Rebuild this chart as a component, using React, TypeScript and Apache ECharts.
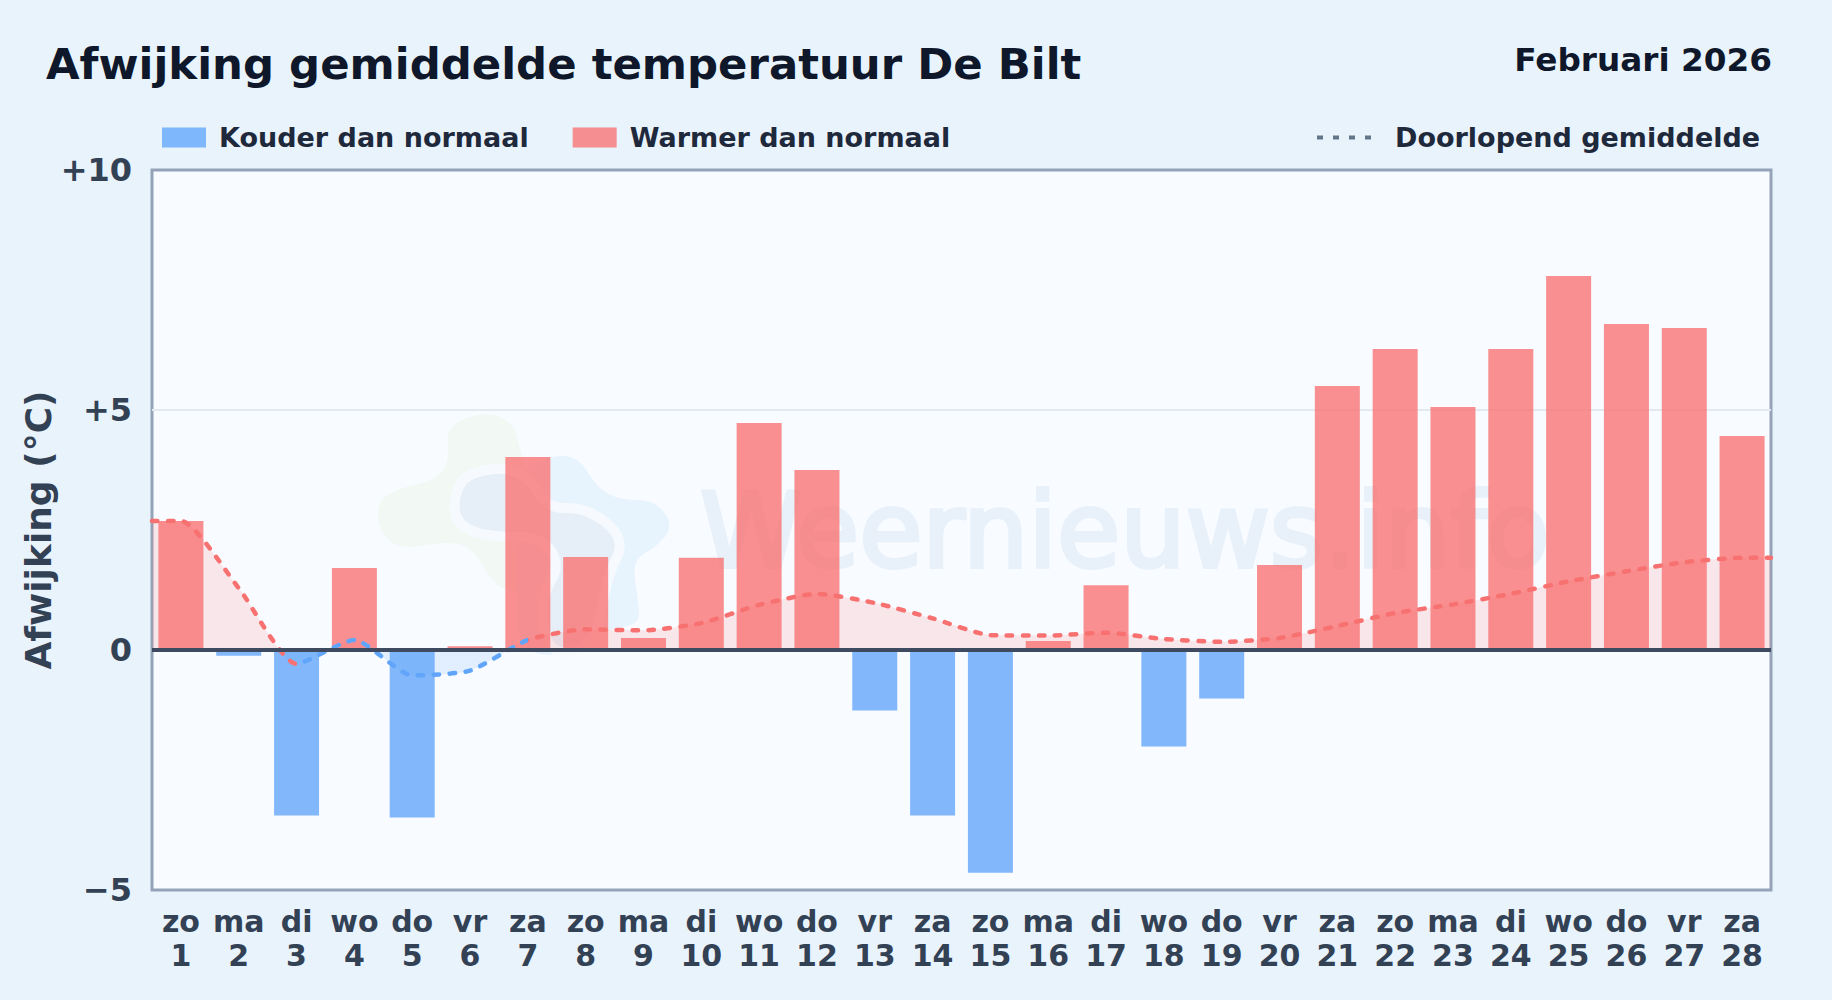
import React, { useEffect, useRef } from "react";
import * as echarts from "echarts";

const weekdays = ["zo","ma","di","wo","do","vr","za","zo","ma","di","wo","do","vr","za","zo","ma","di","wo","do","vr","za","zo","ma","di","wo","do","vr","za"];
const days = [1,2,3,4,5,6,7,8,9,10,11,12,13,14,15,16,17,18,19,20,21,22,23,24,25,26,27,28];
const anomalies = [2.69,-0.12,-3.45,1.71,-3.49,0.08,4.02,1.94,0.25,1.92,4.73,3.75,-1.26,-3.45,-4.64,0.19,1.35,-2.01,-1.01,1.77,5.5,6.27,5.06,6.27,7.79,6.79,6.71,4.46];
const runningMean = [2.69,1.29,-0.29,0.21,-0.53,-0.43,0.21,0.43,0.41,0.56,0.94,1.17,0.98,0.66,0.31,0.3,0.36,0.23,0.17,0.25,0.5,0.77,0.95,1.17,1.43,1.64,1.83,1.92];
const yTicks: Record<string, string> = { "10": "+10", "5": "+5", "0": "0", "-5": "\u22125" };
const coldStretch = [2.5, 6.5];

const FONT = "DejaVu Sans";
const RED = "#f87171";
const BLUE = "#60a5fa";
const BAR_RED = "rgba(248,113,113,0.78)";
const BAR_BLUE = "rgba(96,165,250,0.78)";
const SMOOTH = 0.2;

function blob(p: number[][]): string {
  const n = p.length;
  const mid = (a: number[], b: number[]) => [(a[0] + b[0]) / 2, (a[1] + b[1]) / 2];
  const s = mid(p[n - 1], p[0]);
  let d = `M${s[0]} ${s[1]}`;
  for (let i = 0; i < n; i++) {
    const m = mid(p[i], p[(i + 1) % n]);
    d += `Q${p[i][0]} ${p[i][1]} ${m[0]} ${m[1]}`;
  }
  return d + "Z";
}

const greenBlob = [[487,411],[515,424],[520,452],[540,500],[545,590],[505,592],[490,578],[470,545],[440,542],[400,550],[378,530],[378,500],[400,488],[436,480],[450,460],[446,425]];
const blueBlob = [[548,456],[578,456],[597,488],[620,500],[655,500],[674,526],[655,548],[632,560],[638,600],[640,625],[600,630],[570,655],[530,655],[515,630],[520,520],[520,470]];
const innerBlob = [[458,500],[470,476],[520,472],[545,514],[585,512],[620,540],[605,570],[598,600],[590,640],[552,652],[545,600],[566,565],[545,532],[490,532],[462,522]];

echarts.graphic.registerShape("wmGreen", echarts.graphic.extendPath(blob(greenBlob), {}));
echarts.graphic.registerShape("wmBlue", echarts.graphic.extendPath(blob(blueBlob), {}));
echarts.graphic.registerShape("wmInner", echarts.graphic.extendPath(blob(innerBlob), {}));

export default function App() {
  const ref = useRef<HTMLDivElement>(null);
  useEffect(() => {
    document.body.style.margin = "0";
    const chart = echarts.init(ref.current!, undefined, { renderer: "svg" });
    const linePoints = [
      [0, runningMean[0]],
      ...runningMean.map((v, i) => [i + 0.5, v]),
      [runningMean.length, runningMean[runningMean.length - 1]],
    ];
    chart.setOption({
      animation: false,
      backgroundColor: "#e9f3fc",
      textStyle: { fontFamily: FONT },
      title: [
        { text: "Afwijking gemiddelde temperatuur De Bilt", left: 41, top: 37, textStyle: { fontFamily: FONT, fontSize: 43.4, fontWeight: "bold", color: "#0f172a" } },
        { text: "Februari 2026", right: 55, top: 38, textStyle: { fontFamily: FONT, fontSize: 32.7, fontWeight: "bold", color: "#0f172a" } },
      ],
      legend: [
        {
          left: 157, top: 119, itemWidth: 44, itemHeight: 20, itemGap: 44,
          data: [
            { name: "Kouder dan normaal", icon: "rect" },
            { name: "Warmer dan normaal", icon: "rect" },
          ],
          textStyle: { fontFamily: FONT, fontSize: 27, fontWeight: "bold", color: "#1e293b", padding: [0, 0, 0, 8] },
          selectedMode: false,
        },
        {
          left: 1312, top: 119, itemWidth: 54, itemHeight: 4,
          data: [{ name: "Doorlopend gemiddelde", icon: "path://M0 0h6v4h-6zM16 0h6v4h-6zM32 0h6v4h-6zM48 0h6v4h-6z", itemStyle: { color: "#64748b" } }],
          textStyle: { fontFamily: FONT, fontSize: 27, fontWeight: "bold", color: "#1e293b", padding: [0, 0, 0, 19] },
          selectedMode: false,
        },
      ],
      grid: { left: 152, right: 61, top: 170, bottom: 110, show: true, backgroundColor: "#f8fbff", borderColor: "#94a3b8", borderWidth: 3 },
      xAxis: [
        {
          type: "category",
          data: weekdays.map((w, i) => `${w}\n${days[i]}`),
          position: "bottom",
          axisLine: { show: false, onZero: false },
          axisTick: { show: false },
          splitLine: { show: false },
          axisLabel: { interval: 0, margin: 14, color: "#334155", fontFamily: FONT, fontSize: 30, fontWeight: "bold", lineHeight: 34 },
        },
        { type: "value", min: 0, max: days.length, show: false, splitLine: { show: false } },
      ],
      yAxis: {
        type: "value", min: -5, max: 10, interval: 5,
        name: "Afwijking (\u00b0C)", nameLocation: "middle", nameRotate: 90, nameGap: 96, nameMoveOverlap: false,
        nameTextStyle: { fontFamily: FONT, fontSize: 36, fontWeight: "bold", color: "#334155" },
        axisLine: { show: false }, axisTick: { show: false },
        splitLine: { show: true, showMinLine: false, showMaxLine: false, lineStyle: { color: "#e4e9ef", width: 2 } },
        axisLabel: { margin: 20, color: "#334155", fontFamily: FONT, fontSize: 32, fontWeight: "bold", formatter: (v: number) => yTicks[String(v)] ?? String(v) },
      },
      visualMap: [
        { show: false, seriesIndex: 2, dimension: 1, pieces: [{ min: -100, max: 0, color: BLUE }, { min: 0, max: 100, color: RED }] },
        { show: false, seriesIndex: 3, dimension: 0, pieces: [{ min: -100, max: coldStretch[0], color: RED }, { min: coldStretch[0], max: coldStretch[1], color: BLUE }, { min: coldStretch[1], max: 100, color: RED }] },
      ],
      graphic: [
        { type: "wmGreen", x: 0, y: 0, z: 1, silent: true, style: { fill: "#f2f8f3" } },
        { type: "wmBlue", x: 0, y: 0, z: 1, silent: true, style: { fill: "#e7f3fd" } },
        { type: "wmInner", x: 0, y: 0, z: 1, silent: true, style: { fill: "#e6eff8", stroke: "#f6fafe", lineWidth: 20 } },
        { type: "wmInner", x: 0, y: 0, z: 1, silent: true, style: { fill: "#e6eff8" } },
        { type: "text", x: 700, y: 479, z: 1, silent: true, style: { text: "Weernieuws.info", fontFamily: FONT, fontSize: 103, fill: "#e8f1fa", stroke: "#e8f1fa", lineWidth: 4 } },
      ],
      series: [
        { name: "Kouder dan normaal", type: "bar", stack: "d", barWidth: 45, itemStyle: { color: BAR_BLUE }, data: anomalies.map((v) => (v < 0 ? v : null)) },
        { name: "Warmer dan normaal", type: "bar", stack: "d", barWidth: 45, itemStyle: { color: BAR_RED }, data: anomalies.map((v) => (v >= 0 ? v : null)) },
        {
          name: "Doorlopend vulling", type: "line", xAxisIndex: 1, yAxisIndex: 0, smooth: SMOOTH, showSymbol: false, symbol: "none",
          lineStyle: { width: 0 },
          areaStyle: { opacity: 0.15 },
          data: linePoints,
        },
        {
          name: "Doorlopend gemiddelde", type: "line", xAxisIndex: 1, yAxisIndex: 0, smooth: SMOOTH, showSymbol: false, symbol: "none",
          lineStyle: { width: 4.5, type: [5.5, 10.5], cap: "round" },
          data: linePoints,
          markLine: { silent: true, symbol: "none", label: { show: false }, lineStyle: { color: "#3e4a5f", width: 4, type: "solid" }, data: [{ yAxis: 0 }] },
        },
      ],
    });
    return () => chart.dispose();
  }, []);
  return <div ref={ref} style={{ width: 1832, height: 1000 }} />;
}
